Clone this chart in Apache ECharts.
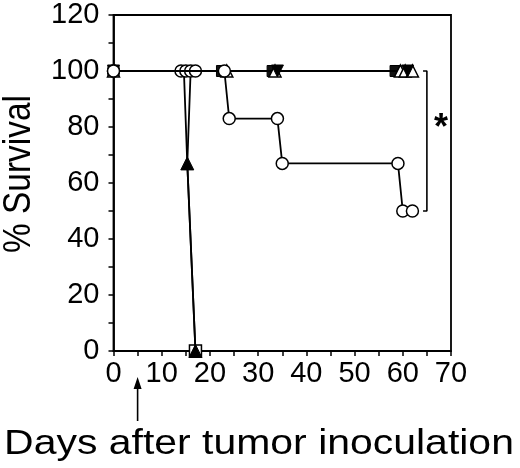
<!DOCTYPE html>
<html><head><meta charset="utf-8">
<script src="https://cdn.jsdelivr.net/npm/echarts@6/dist/echarts.min.js"></script>
<style>html,body{margin:0;padding:0;background:#fff}#c{width:520px;height:468px}</style>
</head><body><div id="c"></div>
<script>
// Data
const xTicks = [0,10,20,30,40,50,60,70];
const yTicks = [0,20,40,60,80,100,120];
// Long-surviving open-circle group
const circleLongDays = [0,23,24,34,35,59,60,62];
const circleLongVals = [100,100,83,83,67,67,50,50];
// Open triangle group (all survive)
const triOpenDays = [0,23.5,33.5,59.5,60.5,62];
const triOpenVals = [100,100,100,100,100,100];
// Filled inverted triangle group
const triDownDays = [0,34,61];
const triDownVals = [100,100,100];
// Filled square group
const squareDays = [0,22.5,33,58.5];
const squareVals = [100,100,100,100];
// Early open-circle group (died)
const circleShortDays = [0,14,15,16,17];
const circleShortVals = [100,100,100,100,100];
const circleDropDays = [16,15.3,17];
const circleDropVals = [100,67,0];
// Filled triangle group (died)
const triFillDays = [14.6,15.3,17];
const triFillVals = [100,67,0];
// Open square at death
const squareDeadDays = [17];
const squareDeadVals = [0];
// Significance bracket
const bracketDays = [64.2,65,65,64.2];
const bracketVals = [100,100,50,50];
const arrowDay = 5;

const FONT = '"Liberation Sans", Arial, sans-serif';
const zip = (a,b) => a.map((v,i)=>[v,b[i]]);
const chart = echarts.init(document.getElementById('c'), null, {renderer:'canvas'});
const lineStyle = {color:'#000', width:1.8};
const base = {type:'line', animation:false, lineStyle, z:2};

const option = {
  animation:false,
  grid:{left:113.5, right:69, top:15, bottom:117, show:true, borderColor:'#000', borderWidth:1.8},
  xAxis:{type:'value', min:0, max:70, interval:10,
    axisLine:{show:true, lineStyle:{color:'#000', width:1.8}},
    axisTick:{show:true, inside:false, length:5, lineStyle:{color:'#000', width:1.5}},
    minorTick:{show:true, splitNumber:2, length:5, lineStyle:{color:'#000', width:1.5}},
    splitLine:{show:false},
    axisLabel:{color:'#000', fontFamily:FONT, fontSize:29, margin:8,
      formatter:v => xTicks.includes(v) ? String(v) : ''}
  },
  yAxis:{type:'value', min:0, max:120, interval:20,
    axisLine:{show:true, lineStyle:{color:'#000', width:1.8}},
    axisTick:{show:true, length:5, lineStyle:{color:'#000', width:1.5}},
    minorTick:{show:true, splitNumber:2, length:5, lineStyle:{color:'#000', width:1.5}},
    splitLine:{show:false},
    axisLabel:{color:'#000', fontFamily:FONT, fontSize:29, margin:14,
      formatter:v => yTicks.includes(v) ? String(v) : ''}
  },
  series:[
    Object.assign({}, base, {data:zip(bracketDays,bracketVals), symbol:'none', lineStyle:{color:'#000',width:1.6}}),
    Object.assign({}, base, {data:zip(squareDays,squareVals), symbol:'rect', symbolSize:11,
      itemStyle:{color:'#111', borderColor:'#000', borderWidth:1}}),
    Object.assign({}, base, {data:zip(triOpenDays,triOpenVals), symbol:'triangle', symbolSize:12,
      itemStyle:{color:'#fff', borderColor:'#000', borderWidth:1.5}, z:3}),
    Object.assign({}, base, {data:zip(triDownDays,triDownVals), symbol:'triangle', symbolRotate:180, symbolSize:12,
      itemStyle:{color:'#000', borderColor:'#000', borderWidth:1}, z:3}),
    Object.assign({}, base, {data:zip(circleDropDays,circleDropVals), symbol:'none'}),
    Object.assign({}, base, {data:zip(triFillDays,triFillVals).map((p,i)=> i===0 ? {value:p, symbol:'none'} : p),
      symbol:'triangle', symbolSize:13, itemStyle:{color:'#000', borderColor:'#000'}, z:5}),
    Object.assign({}, base, {data:zip(squareDeadDays,squareDeadVals), symbol:'rect', symbolSize:12,
      itemStyle:{color:'#fff', borderColor:'#000', borderWidth:1.5}, z:4}),
    Object.assign({}, base, {data:zip(circleShortDays,circleShortVals), symbol:'circle', symbolSize:12,
      itemStyle:{color:'#fff', borderColor:'#000', borderWidth:1.5}, z:6}),
    Object.assign({}, base, {data:zip(circleLongDays,circleLongVals), symbol:'circle', symbolSize:12,
      itemStyle:{color:'#fff', borderColor:'#000', borderWidth:1.5}, z:7})
  ]
};
chart.setOption(option);

const ax = chart.convertToPixel({gridIndex:0},[arrowDay,0]);
const star = chart.convertToPixel({gridIndex:0},[bracketDays[1],(bracketVals[1]+bracketVals[2])/2]);
chart.setOption({graphic:[
  {type:'line', shape:{x1:ax[0], y1:421, x2:ax[0], y2:386}, style:{stroke:'#000', lineWidth:1.6}},
  {type:'polygon', shape:{points:[[ax[0],377],[ax[0]-4,389],[ax[0]+4,389]]}, style:{fill:'#000'}},
  {type:'text', x:259, y:444, scaleX:1.17, style:{text:'Days after tumor inoculation', fontFamily:FONT, fontSize:35,
    fill:'#000', align:'center', verticalAlign:'middle'}},
  {type:'text', x:20, y:174, rotation:Math.PI/2, scaleX:0.88, style:{text:'% Survival', fontFamily:FONT, fontSize:38,
    fill:'#000', align:'center', verticalAlign:'middle'}},
  {type:'text', x:star[0]+14, y:star[1]-12, style:{text:'*', fontFamily:FONT, fontSize:36, fontWeight:'bold',
    fill:'#000', align:'center', verticalAlign:'middle'}}
]});
</script></body></html>
